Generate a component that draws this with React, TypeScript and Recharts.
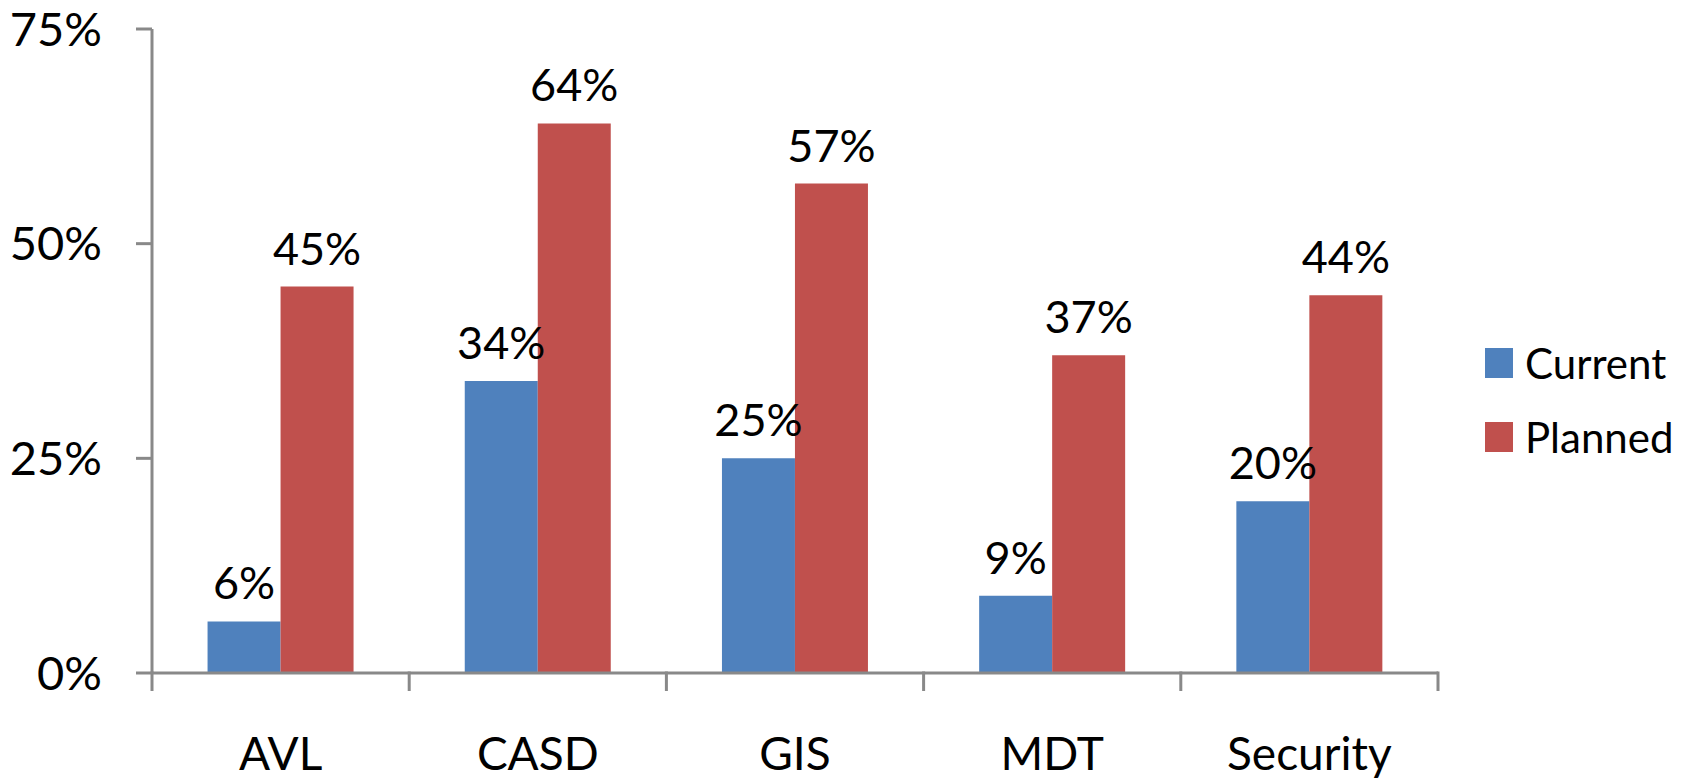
import React from "react";
import { BarChart, Bar, XAxis, YAxis, Legend, LabelList } from "recharts";

const categories = ["AVL", "CASD", "GIS", "MDT", "Security"];
const currentValues = [6, 34, 25, 9, 20];
const plannedValues = [45, 64, 57, 37, 44];
const yTicks = [0, 25, 50, 75];

const data = categories.map((name, i) => ({
  name,
  Current: currentValues[i],
  Planned: plannedValues[i],
}));

const BLUE = "#4F81BD";
const RED = "#C0504D";
const AXIS = "#898989";
const FONT = "Lato, 'Open Sans', sans-serif";

const CategoryTick = (props: any) => {
  const { x, y, payload, index, visibleTicksCount } = props;
  const half = payload && typeof payload.offset === "number" ? payload.offset : 0;
  const isLast = index === (visibleTicksCount || categories.length) - 1;
  return (
    <g>
      <line x1={x - half} x2={x - half} y1={y - 1.5} y2={y + 18} stroke={AXIS} strokeWidth={3} />
      {isLast && (
        <line x1={x + half} x2={x + half} y1={y - 1.5} y2={y + 18} stroke={AXIS} strokeWidth={3} />
      )}
      <text
        x={x}
        y={y + 64}
        dy="0.72em"
        textAnchor="middle"
        fontSize={46}
        fontFamily={FONT}
        fill="#000"
      >
        {payload.value}
      </text>
    </g>
  );
};

const renderLegend = (props: any) => {
  const { payload } = props;
  return (
    <div style={{ fontFamily: FONT }}>
      {(payload || []).map((p: any, i: number) => (
        <div
          key={p.value}
          style={{
            display: "flex",
            alignItems: "center",
            height: 30,
            marginBottom: i === 0 ? 44 : 0,
          }}
        >
          <div style={{ width: 28, height: 30, background: p.color, marginRight: 12 }} />
          <span style={{ fontSize: 42, lineHeight: "30px", color: "#000" }}>{p.value}</span>
        </div>
      ))}
    </div>
  );
};

export default function App() {
  return (
    <div style={{ position: "fixed", left: 0, top: 0, width: 1702, height: 782, background: "#fff" }}>
      <BarChart
        width={1702}
        height={782}
        data={data}
        margin={{ top: 29, right: 264, bottom: 0, left: 0 }}
        barCategoryGap="21.6%"
        barGap={0}
      >
        <XAxis
          dataKey="name"
          height={109}
          axisLine={{ stroke: AXIS, strokeWidth: 3 }}
          tickLine={false}
          tickSize={0}
          tickMargin={0}
          tick={<CategoryTick />}
          interval={0}
        />
        <YAxis
          width={152}
          domain={[0, 75]}
          ticks={yTicks}
          interval={0}
          tickFormatter={(v: number) => `${v}%`}
          tickSize={16}
          tickMargin={34}
          axisLine={{ stroke: AXIS, strokeWidth: 3 }}
          tickLine={{ stroke: AXIS, strokeWidth: 3 }}
          tick={{ fontSize: 47, fill: "#000", fontFamily: FONT }}
        />
        <Legend
          layout="horizontal"
          verticalAlign="middle"
          align="center"
          content={renderLegend}
          wrapperStyle={{ position: "absolute", left: 1485, top: 348, width: 217 }}
        />
        <Bar dataKey="Current" fill={BLUE} isAnimationActive={false}>
          <LabelList
            dataKey="Current"
            position="top"
            offset={22}
            formatter={(v: number) => `${v}%`}
            style={{ fontSize: 45, fill: "#000", fontFamily: FONT }}
          />
        </Bar>
        <Bar dataKey="Planned" fill={RED} isAnimationActive={false}>
          <LabelList
            dataKey="Planned"
            position="top"
            offset={22}
            formatter={(v: number) => `${v}%`}
            style={{ fontSize: 45, fill: "#000", fontFamily: FONT }}
          />
        </Bar>
      </BarChart>
    </div>
  );
}
